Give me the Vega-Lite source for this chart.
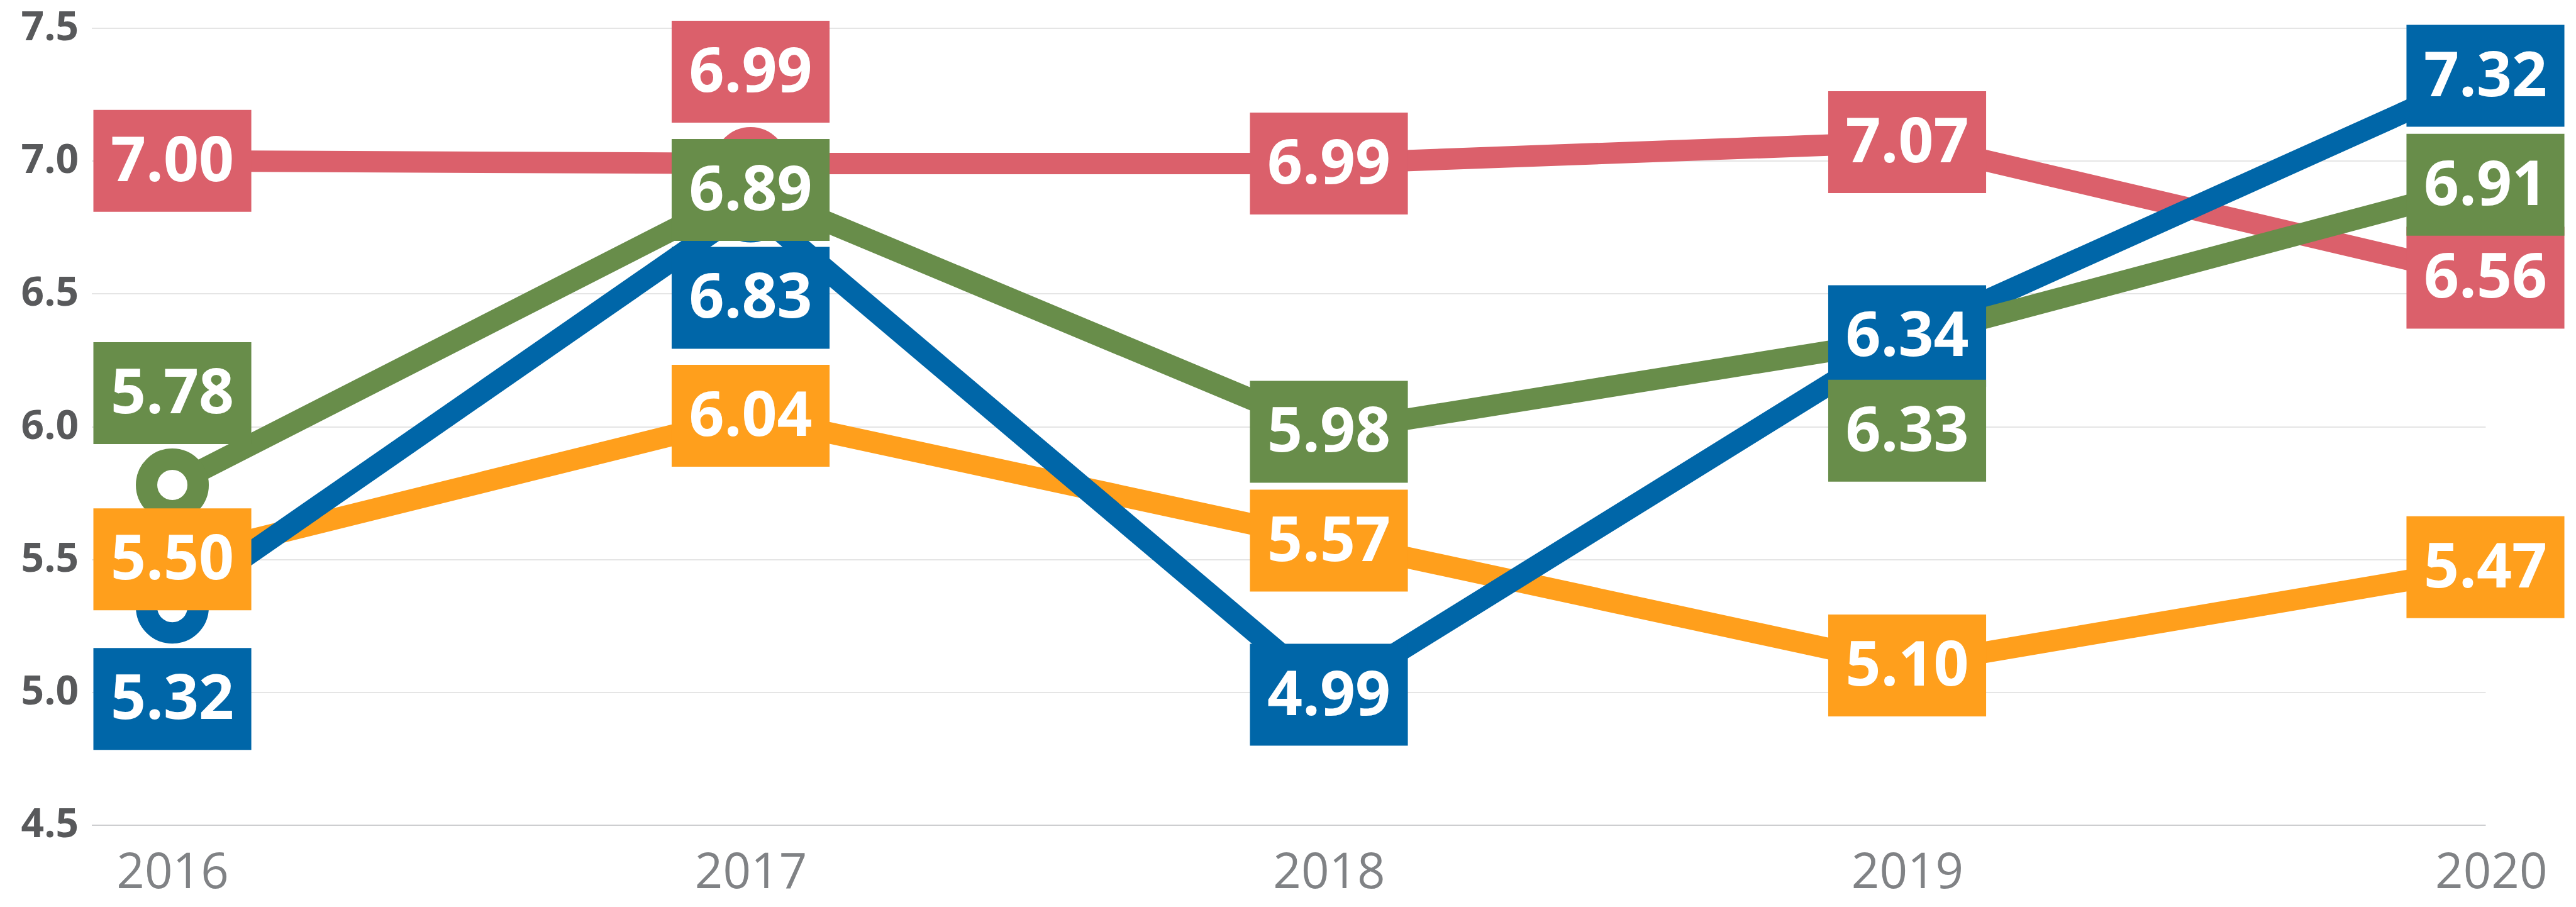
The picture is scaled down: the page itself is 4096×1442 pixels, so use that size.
{
  "$schema": "https://vega.github.io/schema/vega-lite/v6.json",
  "autosize": "none",
  "width": 3806.5,
  "height": 1267,
  "padding": {"left": 145.5, "top": 44.5, "right": 144, "bottom": 130.5},
  "background": "white",
  "config": {"view": {"stroke": null}},
  "data": {
    "values": [
      {"year": 2016, "series": "Series 1", "value": 7.00},
      {"year": 2017, "series": "Series 1", "value": 6.99},
      {"year": 2018, "series": "Series 1", "value": 6.99},
      {"year": 2019, "series": "Series 1", "value": 7.07},
      {"year": 2020, "series": "Series 1", "value": 6.56},
      {"year": 2016, "series": "Series 2", "value": 5.50},
      {"year": 2017, "series": "Series 2", "value": 6.04},
      {"year": 2018, "series": "Series 2", "value": 5.57},
      {"year": 2019, "series": "Series 2", "value": 5.10},
      {"year": 2020, "series": "Series 2", "value": 5.47},
      {"year": 2016, "series": "Series 3", "value": 5.32},
      {"year": 2017, "series": "Series 3", "value": 6.83},
      {"year": 2018, "series": "Series 3", "value": 4.99},
      {"year": 2019, "series": "Series 3", "value": 6.34},
      {"year": 2020, "series": "Series 3", "value": 7.32},
      {"year": 2016, "series": "Series 4", "value": 5.78},
      {"year": 2017, "series": "Series 4", "value": 6.89},
      {"year": 2018, "series": "Series 4", "value": 5.98},
      {"year": 2019, "series": "Series 4", "value": 6.33},
      {"year": 2020, "series": "Series 4", "value": 6.91}
    ]
  },
  "encoding": {
    "x": {
      "field": "year", "type": "quantitative",
      "scale": {"domain": [2015.8602, 2020], "nice": false, "zero": false},
      "axis": {
        "title": null, "values": [2016, 2017, 2018, 2019, 2020], "format": "d",
        "grid": false, "domain": false, "ticks": false,
        "labelFont": "Open Sans", "labelFontSize": 78, "labelColor": "#808285",
        "labelPadding": 38, "labelFlush": true, "labelFlushOffset": 98,
        "labelLimit": 0, "labelOverlap": false
      }
    },
    "y": {
      "field": "value", "type": "quantitative",
      "scale": {"domain": [4.5, 7.5], "nice": false, "zero": false},
      "axis": {
        "title": null, "values": [4.5, 5.0, 5.5, 6.0, 6.5, 7.0, 7.5], "format": ".1f",
        "domain": false, "ticks": false, "grid": true,
        "gridColor": {"condition": {"test": "datum.value == 4.5", "value": "#bcbec0"}, "value": "#dcdcdc"},
        "gridWidth": 1.5,
        "labelFont": "Open Sans", "labelFontWeight": "bold", "labelFontSize": 64,
        "labelColor": "#58595b", "labelPadding": 21, "labelLimit": 0
      }
    }
  },
  "layer": [
    {
      "mark": {"type": "line", "strokeWidth": 34, "strokeJoin": "miter"},
      "encoding": {
        "color": {"field": "series", "type": "nominal", "legend": null,
          "scale": {"domain": ["Series 1", "Series 2", "Series 3", "Series 4"], "range": ["#DB606B", "#FF9F1C", "#0066A8", "#688D4A"]}}
      }
    },
    {
      "mark": {"type": "point", "shape": "circle", "size": 6724, "strokeWidth": 34, "fill": "white", "filled": true, "opacity": 1, "strokeOpacity": 1, "fillOpacity": 1},
      "encoding": {
        "stroke": {"field": "series", "type": "nominal", "legend": null,
          "scale": {"domain": ["Series 1", "Series 2", "Series 3", "Series 4"], "range": ["#DB606B", "#FF9F1C", "#0066A8", "#688D4A"]}}
      }
    },
    {
      "transform": [{"filter": "!((datum.series == 'Series 1' && datum.year == 2017) || (datum.series == 'Series 4' && datum.year == 2016) || (datum.series == 'Series 3' && (datum.year == 2016 || datum.year == 2017)) || (datum.series == 'Series 4' && datum.year == 2019))"}],
      "layer": [
        {
          "mark": {"type": "point", "shape": "M-1.55,-1H1.55V1H-1.55Z", "size": 26244, "filled": true, "opacity": 1, "strokeWidth": 0},
          "encoding": {"color": {"field": "series", "type": "nominal", "legend": null}}
        },
        {
          "mark": {"type": "text", "font": "Open Sans", "fontWeight": "bold", "fontSize": 98, "color": "white", "baseline": "middle", "align": "center", "dy": 3},
          "encoding": {"text": {"field": "value", "type": "quantitative", "format": ".2f"}}
        }
      ]
    },
    {
      "transform": [{"filter": "(datum.series == 'Series 1' && datum.year == 2017) || (datum.series == 'Series 4' && datum.year == 2016)"}],
      "layer": [
        {
          "mark": {"type": "point", "shape": "M-1.55,-1H1.55V1H-1.55Z", "size": 26244, "filled": true, "opacity": 1, "strokeWidth": 0, "yOffset": -146},
          "encoding": {"color": {"field": "series", "type": "nominal", "legend": null}}
        },
        {
          "mark": {"type": "text", "font": "Open Sans", "fontWeight": "bold", "fontSize": 98, "color": "white", "baseline": "middle", "align": "center", "dy": -143},
          "encoding": {"text": {"field": "value", "type": "quantitative", "format": ".2f"}}
        }
      ]
    },
    {
      "transform": [{"filter": "(datum.series == 'Series 3' && (datum.year == 2016 || datum.year == 2017)) || (datum.series == 'Series 4' && datum.year == 2019)"}],
      "layer": [
        {
          "mark": {"type": "point", "shape": "M-1.55,-1H1.55V1H-1.55Z", "size": 26244, "filled": true, "opacity": 1, "strokeWidth": 0, "yOffset": 146},
          "encoding": {"color": {"field": "series", "type": "nominal", "legend": null}}
        },
        {
          "mark": {"type": "text", "font": "Open Sans", "fontWeight": "bold", "fontSize": 98, "color": "white", "baseline": "middle", "align": "center", "dy": 149},
          "encoding": {"text": {"field": "value", "type": "quantitative", "format": ".2f"}}
        }
      ]
    }
  ]
}
